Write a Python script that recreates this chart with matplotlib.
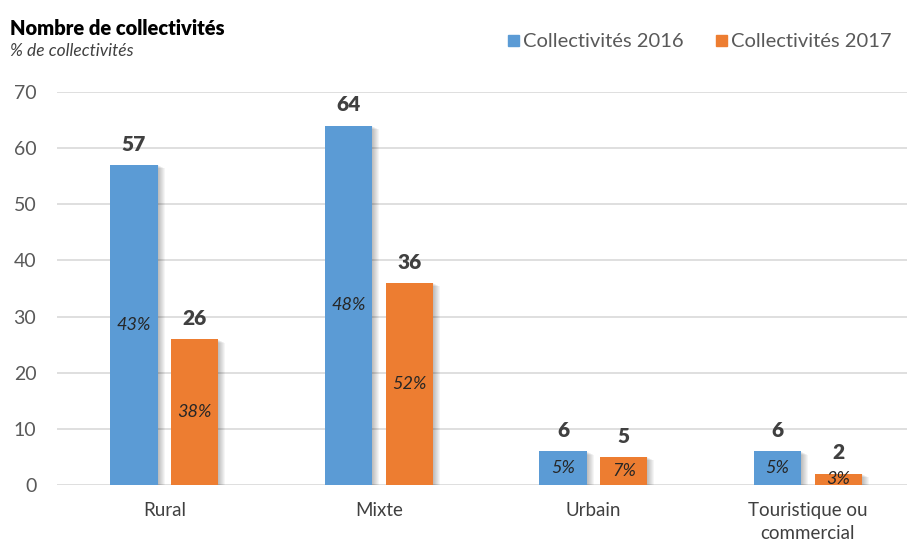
import numpy as np
import matplotlib.pyplot as plt
import matplotlib.transforms as mtransforms

categories = ['Rural', 'Mixte', 'Urbain', 'Touristique ou\ncommercial']
values_2016 = [57, 64, 6, 6]
values_2017 = [26, 36, 5, 2]
share_2016 = ['43%', '48%', '5%', '5%']
share_2017 = ['38%', '52%', '7%', '3%']
series_names = ['Collectivités 2016', 'Collectivités 2017']
colors = ['#5B9BD5', '#ED7D31']

plt.rcParams['font.family'] = ['Lato', 'DejaVu Sans']

fig = plt.figure(figsize=(9.07, 5.47), dpi=100)
ax = fig.add_axes([0.063, 0.1133, 0.946, 0.7185])

x = np.arange(len(categories))
width = 0.22
offset = 0.142

for vals, shares, dx, col in [(values_2016, share_2016, -offset, colors[0]),
                              (values_2017, share_2017, offset, colors[1])]:
    # soft drop shadow: stacked faint copies nudged right/down
    for k in range(1, 8):
        tr = ax.transData + mtransforms.ScaledTranslation(k / 100, -k / 200, fig.dpi_scale_trans)
        ax.bar(x + dx, vals, width, color='black', alpha=0.04, transform=tr,
               zorder=2, linewidth=0)
    ax.bar(x + dx, vals, width, color=col, zorder=3, linewidth=0)
    for xi, v, s in zip(x + dx, vals, shares):
        ax.annotate(str(v), (xi, v), xytext=(0, 15), textcoords='offset points',
                    ha='center', va='center', fontsize=15, fontweight='heavy',
                    color='#404040', zorder=5)
        ax.text(xi, v / 2, s, ha='center', va='center', fontsize=13,
                style='italic', color='#262626', zorder=5)

ax.set_xlim(-0.5, len(categories) - 0.5)
ax.set_ylim(0, 70)
ax.set_yticks(range(0, 71, 10))
ax.set_xticks(x)
ax.set_xticklabels(categories, fontsize=13.5, color='#404040', linespacing=1.45)
ax.tick_params(axis='y', labelsize=14, labelcolor='#595959', length=0, pad=15)
ax.tick_params(axis='x', length=0, pad=12)
ax.yaxis.grid(True, color='#d9d9d9', linewidth=1.2, zorder=0)
ax.set_axisbelow(True)
for sp in ax.spines.values():
    sp.set_visible(False)

fig.text(0.011, 0.948, 'Nombre de collectivités', fontsize=14.5, fontweight='heavy',
         color='black', va='center')
fig.text(0.011, 0.907, '% de collectivités', fontsize=12.5, style='italic',
         color='#404040', va='center')

# legend drawn as squares + labels in figure coordinates
for i, (name, col) in enumerate(zip(series_names, colors)):
    lx = 0.560 + i * 0.229
    fig.patches.append(plt.Rectangle((lx, 0.915), 0.0125, 0.021, color=col,
                                     transform=fig.transFigure, figure=fig))
    fig.text(lx + 0.017, 0.925, name, fontsize=14.5, color='#595959', va='center')

fig.savefig('out.png', dpi=100)
